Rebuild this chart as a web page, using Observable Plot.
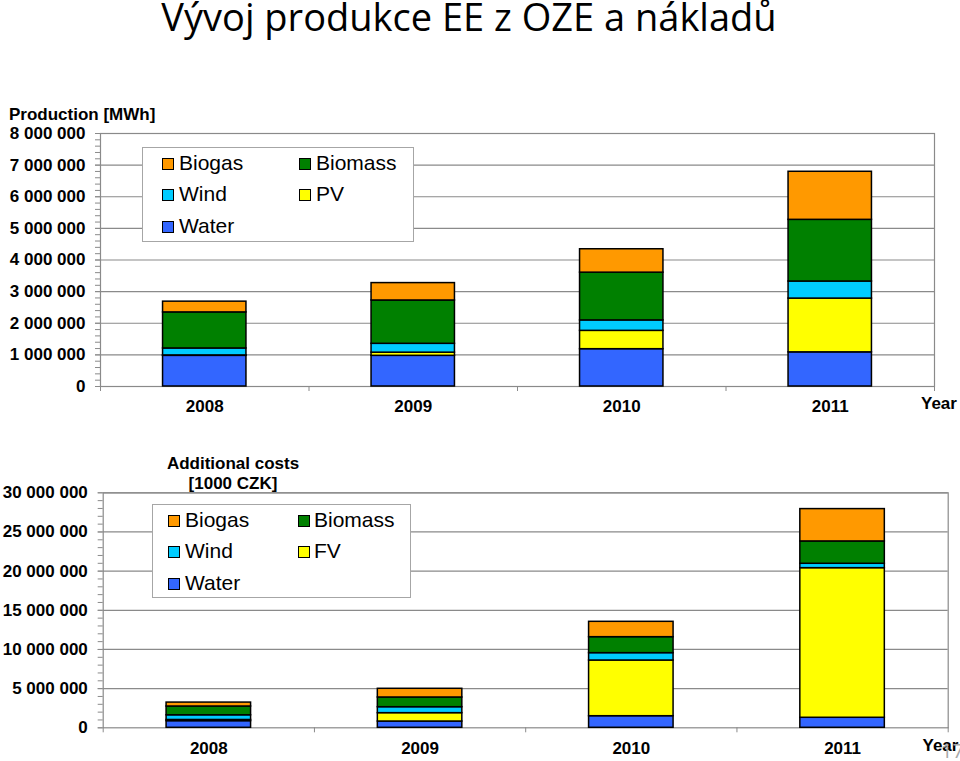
<!DOCTYPE html>
<html><head><meta charset="utf-8">
<script src="https://cdn.jsdelivr.net/npm/d3@7"></script>
<script src="https://cdn.jsdelivr.net/npm/@observablehq/plot@0.6"></script>
<style>
body{margin:0;background:#fff;}
#wrap{position:relative;width:960px;height:761px;overflow:hidden;font-family:"Liberation Sans",Arial,sans-serif;color:#000;}
.abs{position:absolute;white-space:nowrap;}
.title{font-family:"Open Sans",sans-serif;font-size:38px;line-height:32px;left:0;width:938px;text-align:center;top:0px;}
.lbl{font-weight:bold;font-size:17px;line-height:1;}
.legend{position:absolute;border:1px solid #a6a6a6;background:#fff;box-sizing:border-box;}
.sw{position:absolute;width:12px;height:12px;border:1.5px solid #000;box-sizing:border-box;}
.lt{position:absolute;font-size:21px;line-height:1;white-space:nowrap;}
.chart{position:absolute;left:0;}
</style></head>
<body><div id="wrap"></div>
<script>
// ---------- data ----------
const years = ["2008", "2009", "2010", "2011"];
const prodSeries = ["Water", "PV", "Wind", "Biomass", "Biogas"];
const costSeries = ["Water", "FV", "Wind", "Biomass", "Biogas"];
const seriesColors = ["#3366ff", "#ffff00", "#00ccff", "#008000", "#ff9900"];

// Production [MWh]
const prodWater   = [970000, 970000, 1180000, 1080000];
const prodPV      = [13000, 100000, 580000, 1700000];
const prodWind    = [220000, 280000, 330000, 540000];
const prodBiomass = [1140000, 1370000, 1510000, 1950000];
const prodBiogas  = [340000, 550000, 740000, 1520000];

// Additional costs [1000 CZK]
const costWater   = [850000, 800000, 1480000, 1280000];
const costFV      = [150000, 1070000, 7110000, 19100000];
const costWind    = [600000, 760000, 940000, 560000];
const costBiomass = [1120000, 1240000, 2040000, 2850000];
const costBiogas  = [500000, 1110000, 1960000, 4130000];

const prodTicks = [0, 1000000, 2000000, 3000000, 4000000, 5000000, 6000000, 7000000, 8000000];
const costTicks = [0, 5000000, 10000000, 15000000, 20000000, 25000000, 30000000];

// ---------- helpers ----------
function stackRows(seriesNames, valueArrays) {
  const rows = [];
  years.forEach((yr, i) => {
    let acc = 0;
    seriesNames.forEach((s, k) => {
      const v = valueArrays[k][i];
      rows.push({i, year: yr, series: s, y1: acc, y2: acc + v, color: seriesColors[k]});
      acc += v;
    });
  });
  return rows;
}
const fmt = d => d3.format(",")(d).replace(/,/g, " ");

function chart({rows, ticks, minorStep, height, mt, mb, ml, mr, padY, padX}) {
  const yMax = ticks[ticks.length - 1];
  return Plot.plot({
    width: 960, height,
    marginTop: mt, marginBottom: mb, marginLeft: ml, marginRight: mr,
    x: {domain: [0, years.length], axis: null},
    y: {domain: [0, yMax], axis: null},
    style: {fontFamily: "Liberation Sans, Arial, sans-serif", fontSize: "17px", fontWeight: "bold", color: "#000", overflow: "visible", background: "transparent"},
    marks: [
      Plot.gridY(ticks.slice(1), {stroke: "#8a8a8a", strokeOpacity: 1, strokeWidth: 1.2}),
      Plot.frame({stroke: "#8a8a8a", strokeWidth: 1.2}),
      Plot.axisY(d3.range(0, yMax + 1, minorStep), {tickSize: 5, tickFormat: () => "", stroke: "#8a8a8a", label: null}),
      Plot.axisY(ticks, {tickSize: 5, tickPadding: padY, tickFormat: fmt, stroke: "#8a8a8a", fill: "#000", fontSize: 17, fontWeight: "bold", label: null}),
      Plot.axisX(d3.range(0, years.length + 1), {tickSize: 5, tickFormat: () => "", stroke: "#8a8a8a", label: null}),
      Plot.axisX(years.map((y, i) => i + 0.5), {tickSize: 0, tickPadding: padX, tickFormat: d => years[Math.floor(d)], fill: "#000", fontSize: 17, fontWeight: "bold", label: null}),
      Plot.rect(rows, {x1: d => d.i + 0.3, x2: d => d.i + 0.7, y1: "y1", y2: "y2", fill: "color", stroke: "#000", strokeWidth: 1.5})
    ]
  });
}

function legend(wrap, box, names, swX, txX, rowsY) {
  const div = document.createElement("div");
  div.className = "legend";
  Object.assign(div.style, {left: box[0] + "px", top: box[1] + "px", width: box[2] + "px", height: box[3] + "px"});
  wrap.appendChild(div);
  // order: Biogas, Biomass / Wind, PV / Water
  const order = [4, 3, 2, 1, 0];
  order.forEach((k, n) => {
    const col = n % 2, row = Math.floor(n / 2);
    const sw = document.createElement("div");
    sw.className = "sw";
    sw.style.background = seriesColors[k];
    sw.style.left = (swX[col] - box[0]) + "px";
    sw.style.top = (rowsY[row] - 6 - box[1]) + "px";
    div.appendChild(sw);
    const t = document.createElement("div");
    t.className = "lt";
    t.textContent = names[k];
    t.style.left = (txX[col] - box[0]) + "px";
    t.style.top = (rowsY[row] - 12 - box[1]) + "px";
    div.appendChild(t);
  });
}

function addText(wrap, cls, text, style) {
  const d = document.createElement("div");
  d.className = "abs " + cls;
  d.textContent = text;
  Object.assign(d.style, style);
  wrap.appendChild(d);
  return d;
}

// ---------- build ----------
const wrap = document.getElementById("wrap");
addText(wrap, "title", "Vývoj produkce EE z OZE a nákladů", {});

const c1 = chart({
  rows: stackRows(prodSeries, [prodWater, prodPV, prodWind, prodBiomass, prodBiogas]),
  ticks: prodTicks, minorStep: 200000,
  height: 330, mt: 33, mb: 44, ml: 100, mr: 26, padY: 10, padX: 13
});
c1.classList.add("chart"); c1.style.top = "100px";
wrap.appendChild(c1);

const c2 = chart({
  rows: stackRows(costSeries, [costWater, costFV, costWind, costBiomass, costBiogas]),
  ticks: costTicks, minorStep: 1000000,
  height: 300, mt: 32.3, mb: 32.7, ml: 102.7, mr: 12.3, padY: 10.4, padX: 14
});
c2.classList.add("chart"); c2.style.top = "460px";
wrap.appendChild(c2);

addText(wrap, "lbl", "Production [MWh]", {left: "9px", top: "106px"});
addText(wrap, "lbl", "Year", {left: "921px", top: "394.5px"});
addText(wrap, "lbl", "Additional costs", {left: "133px", width: "200px", textAlign: "center", top: "454.5px"});
addText(wrap, "lbl", "[1000 CZK]", {left: "133px", width: "200px", textAlign: "center", top: "475px"});
addText(wrap, "lbl", "Year", {left: "922.5px", top: "737px"});

legend(wrap, [142, 147, 272, 95], prodSeries, [161, 297.5], [178, 315], [163.2, 194.3, 226.3]);
legend(wrap, [151.5, 504, 259, 94], costSeries, [166.5, 296.5], [184, 313], [520, 551.3, 582.7]);

addText(wrap, "", "17", {left: "941px", top: "741px", fontFamily: "Open Sans, sans-serif", fontSize: "20px", color: "#a8a8a8", lineHeight: "1"});
</script>
</body></html>
